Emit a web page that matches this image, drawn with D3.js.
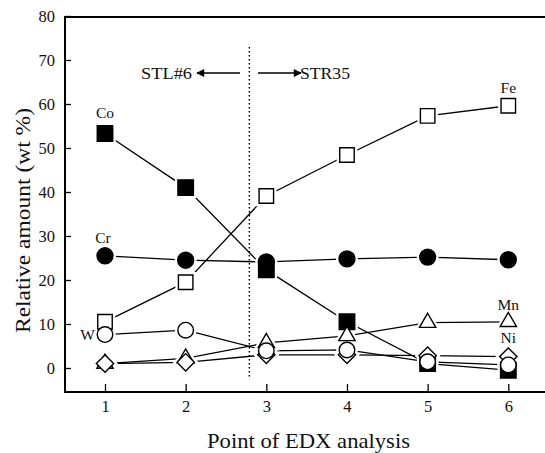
<!DOCTYPE html>
<html>
<head>
<meta charset="utf-8">
<script src="https://cdn.jsdelivr.net/npm/d3@7"></script>
<style>
  body { margin: 0; background: #fff; }
  svg { display: block; }
  svg text { font-family: "Liberation Serif", "Times New Roman", Times, "DejaVu Serif", serif !important; fill: #111; }
</style>
</head>
<body>
<svg id="chart" width="545" height="453"></svg>
<script>
// values (wt %)
var points = [1, 2, 3, 4, 5, 6];
var coVals = [53.3, 41, 22.3, 10.5, 1, -0.5];
var crVals = [25.5, 24.5, 24.1, 24.8, 25.2, 24.6];
var feVals = [10.5, 19.5, 39.1, 48.4, 57.3, 59.6];
var mnVals = [1, 2.2, 5.7, 7.3, 10.3, 10.5];
var niVals = [1, 1.3, 3, 3, 2.8, 2.6];
var wVals = [7.6, 8.6, 3.9, 4.1, 1.4, 0.7];
var yTicks = [0, 10, 20, 30, 40, 50, 60, 70, 80];

var svg = d3.select("#chart");
var frame = {left: 65, top: 17, bottom: 392, right: 545};

var x = d3.scaleLinear().domain([1, 6]).range([105, 508.3]);
var y = d3.scaleLinear().domain([0, 80]).range([368, 16]);

// frame: left, top, bottom (no right side)
svg.append("path")
  .attr("d", "M" + frame.right + "," + frame.top + "H" + frame.left + "V" + frame.bottom + "H" + frame.right)
  .attr("fill", "none").attr("stroke", "#000").attr("stroke-width", 2);

var yAxis = svg.append("g").attr("transform", "translate(" + frame.left + ",0)")
  .call(d3.axisLeft(y).tickValues(yTicks).tickSize(-6).tickPadding(10));
yAxis.attr("font-family", null);
yAxis.select(".domain").remove();
yAxis.selectAll("text").style("font-size", "16.5px");
yAxis.selectAll("line").attr("stroke-width", 1.3);

var xAxis = svg.append("g").attr("transform", "translate(0," + frame.bottom + ")")
  .call(d3.axisBottom(x).tickValues(points).tickFormat(d3.format("d")).tickSize(-8).tickPadding(8));
xAxis.attr("font-family", null);
xAxis.select(".domain").remove();
xAxis.selectAll("text").style("font-size", "16.5px");
xAxis.selectAll("line").attr("stroke-width", 1.3);

// axis titles (reference face is wider than Times, so stretch to its width)
svg.append("text").attr("x", 207).attr("y", 448)
  .attr("textLength", 203).attr("lengthAdjust", "spacingAndGlyphs")
  .style("font-size", "21px").text("Point of EDX analysis");
svg.append("text").attr("transform", "translate(30,333) rotate(-90)")
  .attr("textLength", 225).attr("lengthAdjust", "spacingAndGlyphs")
  .style("font-size", "21px").text("Relative amount (wt %)");

// boundary between STL#6 and STR35
var xb = x(2.79);
svg.append("line").attr("x1", xb).attr("x2", xb).attr("y1", 47).attr("y2", 379)
  .attr("stroke", "#000").attr("stroke-width", 1.5).attr("stroke-dasharray", "1.5,2.5");

var defs = svg.append("defs");
defs.append("marker").attr("id", "head").attr("viewBox", "0 0 10 10")
  .attr("refX", 9).attr("refY", 5).attr("markerWidth", 13).attr("markerHeight", 8)
  .attr("markerUnits", "userSpaceOnUse").attr("orient", "auto")
  .append("path").attr("d", "M0,0L10,5L0,10Z").attr("fill", "#000");

svg.append("line").attr("x1", 240).attr("x2", 197).attr("y1", 73).attr("y2", 73)
  .attr("stroke", "#000").attr("stroke-width", 1.5).attr("marker-end", "url(#head)");
svg.append("line").attr("x1", 258).attr("x2", 301).attr("y1", 73).attr("y2", 73)
  .attr("stroke", "#000").attr("stroke-width", 1.5).attr("marker-end", "url(#head)");
svg.append("text").attr("x", 141).attr("y", 78.5)
  .attr("textLength", 51).attr("lengthAdjust", "spacingAndGlyphs")
  .style("font-size", "16.5px").text("STL#6");
svg.append("text").attr("x", 300).attr("y", 78.5)
  .attr("textLength", 50).attr("lengthAdjust", "spacingAndGlyphs")
  .style("font-size", "16.5px").text("STR35");

// series
var series = [
  {name: "Co", vals: coVals, sym: d3.symbolSquare, size: 240, rot: 0, fill: "#000"},
  {name: "Cr", vals: crVals, sym: d3.symbolCircle, size: 200, rot: 0, fill: "#000"},
  {name: "Fe", vals: feVals, sym: d3.symbolSquare, size: 210, rot: 0, fill: "#fff"},
  {name: "Mn", vals: mnVals, sym: d3.symbolTriangle, size: 115, rot: 0, fill: "#fff"},
  {name: "Ni", vals: niVals, sym: d3.symbolSquare, size: 150, rot: 45, fill: "#fff"},
  {name: "W", vals: wVals, sym: d3.symbolCircle, size: 190, rot: 0, fill: "#fff"}
];

var line = d3.line().x(function(d, i){ return x(points[i]); }).y(function(d){ return y(d); });

svg.append("g").selectAll("path").data(series).join("path")
  .attr("d", function(s){ return line(s.vals); })
  .attr("fill", "none").attr("stroke", "#000").attr("stroke-width", 1.3);

function place(s){
  return function(d, i){
    return "translate(" + x(points[i]) + "," + y(d) + ") rotate(" + s.rot + ")";
  };
}

// white halos so lines stop just short of the markers, as in the print
var halo = svg.append("g");
series.forEach(function(s){
  halo.append("g").selectAll("path").data(s.vals).join("path")
    .attr("d", d3.symbol().type(s.sym).size(s.size))
    .attr("transform", place(s))
    .attr("fill", "#fff").attr("stroke", "#fff").attr("stroke-width", 6);
});

series.forEach(function(s){
  svg.append("g").selectAll("path").data(s.vals).join("path")
    .attr("d", d3.symbol().type(s.sym).size(s.size))
    .attr("transform", place(s))
    .attr("fill", s.fill).attr("stroke", "#000").attr("stroke-width", 1.4);
});

// element labels
var labels = [
  {t: "Co", v: coVals[0], i: 0, dx: 0, dy: -15, anchor: "middle"},
  {t: "Cr", v: crVals[0], i: 0, dx: -2, dy: -13, anchor: "middle"},
  {t: "W", v: wVals[0], i: 0, dx: -10, dy: 5, anchor: "end"},
  {t: "Fe", v: feVals[5], i: 5, dx: 0, dy: -13, anchor: "middle"},
  {t: "Mn", v: mnVals[5], i: 5, dx: 0, dy: -12, anchor: "middle"},
  {t: "Ni", v: niVals[5], i: 5, dx: 0, dy: -14, anchor: "middle"}
];
svg.append("g").selectAll("text").data(labels).join("text")
  .attr("x", function(d){ return x(points[d.i]) + d.dx; })
  .attr("y", function(d){ return y(d.v) + d.dy; })
  .attr("text-anchor", function(d){ return d.anchor; })
  .style("font-size", "15.5px")
  .text(function(d){ return d.t; });
</script>
</body>
</html>
